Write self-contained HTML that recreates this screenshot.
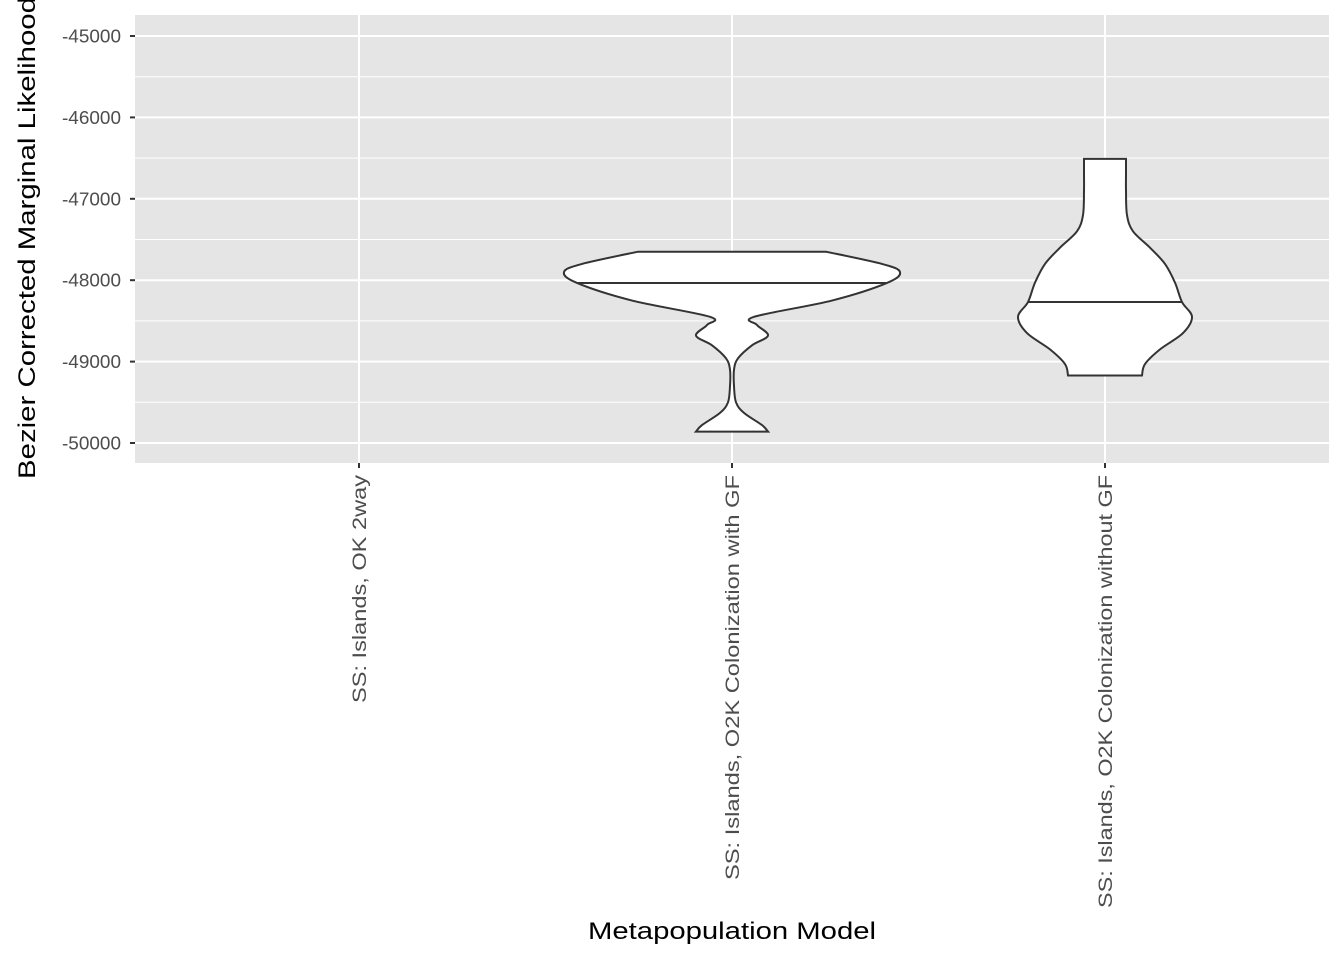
<!DOCTYPE html>
<html><head><meta charset="utf-8"><style>
body{margin:0;background:#fff;}
svg{display:block;font-family:"Liberation Sans",Arial,sans-serif;}
</style></head><body>
<svg id="c" width="1344" height="960"></svg>
<script>
const categories=["SS: Islands, OK 2way","SS: Islands, O2K Colonization with GF","SS: Islands, O2K Colonization without GF"];
const yTicks=[-45000,-46000,-47000,-48000,-49000,-50000];
// violin profiles: values and half-width densities (relative)
const v2Values=[-47650,-47800,-47900,-48034,-48250,-48450,-48550,-48680,-48800,-48960,-49100,-49300,-49500,-49630,-49780,-49860];
const v2Dens=[94,150,168,155,100,22,25,36,20,6,2,2,4,12,30,36];
const v3Values=[-46510,-46700,-46900,-47200,-47400,-47600,-47800,-48030,-48268,-48450,-48650,-48850,-49030,-49170];
const v3Dens=[21,21,21,22,28,45,60,70,77,87,78,55,40,37];
const medians=[null,-48034,-48268];

const NS="http://www.w3.org/2000/svg";
const svg=document.getElementById('c');
const L=135,R=1329,T=15,B=463;
const y=v=>36+(-45000-v)/1000*81.4;
const x=i=>359+i*373;
function mk(t,a,p){const e=document.createElementNS(NS,t);for(const k in a)e.setAttribute(k,a[k]);(p||svg).appendChild(e);return e;}
const bg=mk('rect',{x:L,y:T,width:R-L,height:B-T,fill:'#e5e5e5'});


for(let i=0;i<yTicks.length-1;i++){mk('line',{x1:L,x2:R,y1:y((yTicks[i]+yTicks[i+1])/2),y2:y((yTicks[i]+yTicks[i+1])/2),stroke:'#fff','stroke-width':1});}
yTicks.forEach(t=>{
 const g=mk('line',{x1:L,x2:R,y1:y(t),y2:y(t),stroke:'#fff','stroke-width':2});
 
 
 mk('line',{x1:L-5,x2:L,y1:y(t),y2:y(t),stroke:'#333','stroke-width':2});
 const tx=mk('text',{x:62,y:y(t)+6.5,'font-size':18,fill:'#4d4d4d',textLength:59,lengthAdjust:'spacingAndGlyphs'});
 tx.textContent=String(t);
 
 
});
const xLens=[228,405,433];
categories.forEach((c,i)=>{
 const g=mk('line',{x1:x(i),x2:x(i),y1:T,y2:B,stroke:'#fff','stroke-width':2});
 
 
 mk('line',{x1:x(i),x2:x(i),y1:B,y2:B+5,stroke:'#333','stroke-width':2});
 const tx=mk('text',{transform:`translate(${x(i)+7},${B+12+xLens[i]}) rotate(-90)`,'font-size':19,fill:'#4d4d4d',textLength:xLens[i],lengthAdjust:'spacingAndGlyphs'});
 tx.textContent=c;
 
 
});
function smooth(pts){let d=`M${pts[0][0]},${pts[0][1]}`;for(let i=0;i<pts.length-1;i++){const p0=pts[i-1]||pts[i],p1=pts[i],p2=pts[i+1],p3=pts[i+2]||p2;d+=`C${p1[0]+(p2[0]-p0[0])/6},${p1[1]+(p2[1]-p0[1])/6} ${p2[0]-(p3[0]-p1[0])/6},${p2[1]-(p3[1]-p1[1])/6} ${p2[0]},${p2[1]}`;}return d;}
function interp(vals,dens,v){for(let i=0;i<vals.length-1;i++){if(v<=vals[i]&&v>=vals[i+1]){const f=(vals[i]-v)/(vals[i]-vals[i+1]);return dens[i]+f*(dens[i+1]-dens[i]);}}return dens[dens.length-1];}
function violin(i,vals,dens,med,name){
 const cx=x(i);
 const right=vals.map((v,k)=>[cx+dens[k],y(v)]);
 const left=vals.map((v,k)=>[cx-dens[k],y(v)]).reverse();
 let d=smooth(right);d+=`L${left[0][0]},${left[0][1]}`+smooth(left).replace(/^M[^C]*/,'')+'Z';
 const p=mk('path',{d:d,fill:'#fff',stroke:'#333','stroke-width':2});
 
 
 const w=interp(vals,dens,med);
 const m=mk('line',{x1:cx-w,x2:cx+w,y1:y(med),y2:y(med),stroke:'#333','stroke-width':2});
 
 
}
violin(1,v2Values,v2Dens,medians[1],'violin-colonization-with-gf');
violin(2,v3Values,v3Dens,medians[2],'violin-colonization-without-gf');
const xt=mk('text',{x:588,y:939,'font-size':24,fill:'#000',textLength:288,lengthAdjust:'spacingAndGlyphs'});
xt.textContent='Metapopulation Model';


const yt=mk('text',{transform:`translate(35,479) rotate(-90)`,'font-size':24,fill:'#000',textLength:482,lengthAdjust:'spacingAndGlyphs'});
yt.textContent='Bezier Corrected Marginal Likelihood';


</script>
</body></html>
